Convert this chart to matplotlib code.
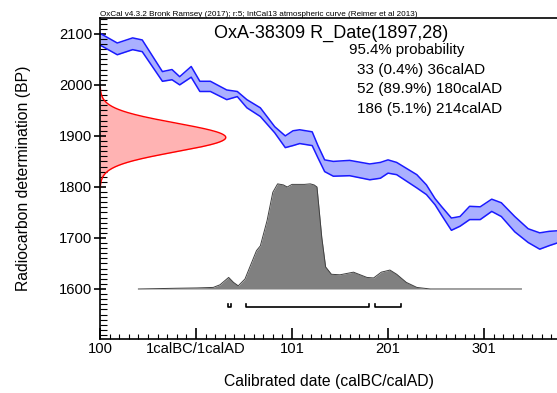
import numpy as np
import matplotlib
matplotlib.use("Agg")
import matplotlib.pyplot as plt
from matplotlib.ticker import MultipleLocator

plt.rcParams['font.family'] = ['Liberation Sans', 'DejaVu Sans']

# calibration curve (IntCal13), cal years (0 = 1BC/1AD) and BP band edges
cal_years = [-100, -82, -66, -56, -35, -25, -17, -5, 4, 15, 32, 43, 53, 67, 82, 93,
             101, 108, 121, 127, 134, 143, 160, 181, 192, 200, 209, 230, 240, 249,
             256, 266, 275, 285, 296, 308, 318, 332, 346, 358, 368, 376]
curve_upper = [2101, 2082, 2092, 2088, 2026, 2030, 2016, 2036, 2007, 2007, 1990, 1987,
               1971, 1955, 1918, 1900, 1910, 1912, 1908, 1881, 1853, 1850, 1852, 1845,
               1848, 1853, 1848, 1824, 1804, 1777, 1761, 1739, 1742, 1762, 1761, 1776,
               1769, 1742, 1718, 1710, 1713, 1714]
curve_lower = [2078, 2059, 2069, 2065, 2007, 2010, 2000, 2015, 1987, 1987, 1971, 1977,
               1955, 1938, 1906, 1877, 1881, 1885, 1881, 1857, 1830, 1821, 1822, 1814,
               1817, 1827, 1824, 1798, 1785, 1765, 1744, 1715, 1723, 1736, 1736, 1752,
               1742, 1712, 1691, 1678, 1685, 1690]

# radiocarbon measurement
sample_name = "OxA-38309"
r_date = 1897
r_error = 28

# calibrated probability (relative)
post_years = [-60, -20, 1, 18, 25, 34, 39, 44, 51, 63, 67, 74, 80, 85, 91, 95, 100,
              113, 119, 123, 126, 131, 135, 141, 150, 164, 178, 185, 193, 202, 209,
              219, 230, 244, 339]
post_prob = [0, 0.007, 0.01, 0.015, 0.04, 0.11, 0.063, 0.03, 0.095, 0.365, 0.41, 0.65,
             0.92, 1.0, 0.99, 0.97, 0.995, 0.995, 1.0, 0.99, 0.97, 0.49, 0.21, 0.14,
             0.135, 0.16, 0.11, 0.105, 0.16, 0.18, 0.14, 0.063, 0.015, 0, 0]

# 95.4% ranges
range_start = [33, 52, 186]
range_end = [36, 180, 214]
range_pct = [0.4, 89.9, 5.1]

fig = plt.figure(figsize=(5.57, 3.93), dpi=100)
ax = fig.add_axes([100/557, 1-339/393, 1-100/557, (339-18)/393])
xmin, xmax = -100, 376
ax.set_xlim(xmin, xmax)
ax.set_ylim(1502, 2131)

# measurement distribution on the y axis
bp = np.linspace(r_date - 3.5*r_error, r_date + 3.5*r_error, 200)
dens = np.exp(-0.5*((bp - r_date)/r_error)**2)
ax.fill_betweenx(bp, xmin, xmin + 131*dens, color='#ffb3b3', lw=0)
ax.plot(xmin + 131*dens, bp, color='red', lw=1)

# calibration curve
ax.fill_between(cal_years, curve_lower, curve_upper, color='#aab0ff', lw=0)
ax.plot(cal_years, curve_upper, color='#1a1aff', lw=1.1, solid_joinstyle='round')
ax.plot(cal_years, curve_lower, color='#1a1aff', lw=1.1, solid_joinstyle='round')

# calibrated distribution
base = 1600
scale = 206
ax.fill_between(post_years, base, base + scale*np.array(post_prob), color='#808080', lw=0)
ax.plot(post_years, base + scale*np.array(post_prob), color='#404040', lw=0.7)

# range brackets
for s, e in zip(range_start, range_end):
    ax.plot([s, s, e, e], [1571, 1565, 1565, 1571], color='black', lw=1.2)

# text
fig.text(100/557, 1-15.5/393,
         "OxCal v4.3.2 Bronk Ramsey (2017); r:5; IntCal13 atmospheric curve (Reimer et al 2013)",
         fontsize=5.9, ha='left', va='baseline')
ax.text(331/557, 1-33/393, f"{sample_name} R_Date({r_date},{r_error})", transform=fig.transFigure,
        fontsize=13, ha='center', va='center')
ax.text(349/557, 1-50/393, "95.4% probability", transform=fig.transFigure,
        fontsize=10.8, ha='left', va='center')
for i, (s, e, p) in enumerate(zip(range_start, range_end, range_pct)):
    ax.text(357/557, 1-(70 + 19.5*i)/393, f"{s} ({p}%) {e}calAD", transform=fig.transFigure,
            fontsize=11, ha='left', va='center')

# axes
ax.spines['right'].set_visible(False)
for sp in ax.spines.values():
    sp.set_linewidth(1.2)
ax.set_xticks([-100, 0, 100, 200, 300])
ax.set_xticklabels(['100', '1calBC/1calAD', '101', '201', '301'])
ax.xaxis.set_minor_locator(MultipleLocator(10))
ax.set_yticks([1600, 1700, 1800, 1900, 2000, 2100])
ax.yaxis.set_minor_locator(MultipleLocator(10))
ax.tick_params(axis='x', which='major', direction='in', length=8, width=1.2, labelsize=10.6, pad=2)
ax.tick_params(axis='x', which='minor', direction='in', length=3.5, width=0.8)
ax.tick_params(axis='y', which='major', direction='inout', length=9, width=1.2, labelsize=10.6, pad=1)
ax.tick_params(axis='y', which='minor', direction='in', length=5, width=0.8)
ax.set_xlabel("Calibrated date (calBC/calAD)", fontsize=11.3, labelpad=13)
ax.set_ylabel("Radiocarbon determination (BP)", fontsize=11.3, labelpad=20)

fig.savefig("out.png", dpi=100)
